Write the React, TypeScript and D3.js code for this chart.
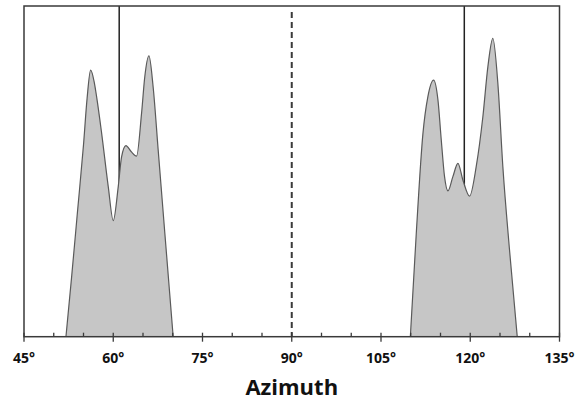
import React, { useEffect, useRef } from 'react';
import * as d3 from 'd3';

// azimuth (deg) and relative density
const westAzimuth = [52.05, 53.0, 54.0, 55.0, 55.6, 56.2, 56.8, 57.2, 58.05, 59.16, 60.0, 60.84, 61.4, 62.13, 63.0, 63.92, 64.76, 65.3, 66.0, 66.7, 67.55, 68.67, 70.07];
const westDensity = [0, 0.18, 0.38, 0.58, 0.72, 0.806, 0.77, 0.726, 0.615, 0.454, 0.351, 0.454, 0.544, 0.578, 0.56, 0.546, 0.676, 0.786, 0.849, 0.756, 0.565, 0.313, 0];

const eastAzimuth = [109.93, 110.93, 112.05, 112.88, 113.84, 114.57, 115.13, 115.68, 116.25, 117.08, 117.93, 118.76, 119.89, 121.0, 122.12, 122.96, 123.8, 124.64, 125.48, 126.6, 127.9];
const eastDensity = [0, 0.313, 0.615, 0.726, 0.776, 0.716, 0.595, 0.484, 0.441, 0.484, 0.524, 0.474, 0.425, 0.514, 0.665, 0.816, 0.902, 0.766, 0.514, 0.262, 0];

const referenceLines = [61, 119];
const centerLine = 90;
const majorTicks = [45, 60, 75, 90, 105, 120, 135];
const minorTicks = [50, 55, 65, 70, 80, 85, 95, 100, 110, 115, 125, 130];

const App = () => {
    const canvas = useRef<HTMLDivElement>(null);

    useEffect(() => {
        const width = 587;
        const height = 401;
        const margin = { top: 6, right: 27.5, bottom: 64.3, left: 24 };
        const boundedWidth = width - margin.left - margin.right;
        const boundedHeight = height - margin.top - margin.bottom;

        const root = d3.select(canvas.current);
        root.selectAll('*').remove();

        const wrapper = root.append('svg')
            .attr('width', width)
            .attr('height', height)
            .style('display', 'block');

        const bounds = wrapper.append('g')
            .attr('transform', `translate(${margin.left},${margin.top})`);

        const xScale = d3.scaleLinear().domain([45, 135]).range([0, boundedWidth]);
        const yScale = d3.scaleLinear().domain([0, 1]).range([boundedHeight, 0]);

        // reference lines sit behind the density fill
        bounds.selectAll('.ref')
            .data(referenceLines)
            .enter()
            .append('line')
            .attr('x1', d => xScale(d))
            .attr('x2', d => xScale(d))
            .attr('y1', 0)
            .attr('y2', boundedHeight)
            .attr('stroke', '#222')
            .attr('stroke-width', 1.5);

        const area = d3.area<[number, number]>()
            .x(d => xScale(d[0]))
            .y0(boundedHeight)
            .y1(d => yScale(d[1]))
            .curve(d3.curveMonotoneX);
        const line = d3.line<[number, number]>()
            .x(d => xScale(d[0]))
            .y(d => yScale(d[1]))
            .curve(d3.curveMonotoneX);

        const groups: [number, number][][] = [
            westAzimuth.map((a, i) => [a, westDensity[i]]),
            eastAzimuth.map((a, i) => [a, eastDensity[i]]),
        ];

        groups.forEach(g => {
            bounds.append('path')
                .attr('d', area(g))
                .attr('fill', '#c6c6c6');
            bounds.append('path')
                .attr('d', line(g))
                .attr('fill', 'none')
                .attr('stroke', '#5a5a5a')
                .attr('stroke-width', 1.2);
        });

        bounds.append('line')
            .attr('x1', xScale(centerLine))
            .attr('x2', xScale(centerLine))
            .attr('y1', 6)
            .attr('y2', boundedHeight)
            .attr('stroke', '#3a3a3a')
            .attr('stroke-width', 2)
            .attr('stroke-dasharray', '6,4');

        // frame
        bounds.append('rect')
            .attr('x', 0)
            .attr('y', 0)
            .attr('width', boundedWidth)
            .attr('height', boundedHeight)
            .attr('fill', 'none')
            .attr('stroke', '#3a3a3a')
            .attr('stroke-width', 1.5);

        const xAxis = bounds.append('g')
            .attr('transform', `translate(0,${boundedHeight})`);

        xAxis.selectAll('.minor')
            .data(minorTicks)
            .enter()
            .append('line')
            .attr('x1', d => xScale(d))
            .attr('x2', d => xScale(d))
            .attr('y1', -4)
            .attr('y2', 0)
            .attr('stroke', '#3a3a3a')
            .attr('stroke-width', 1.3);

        xAxis.selectAll('.major')
            .data(majorTicks)
            .enter()
            .append('line')
            .attr('x1', d => xScale(d))
            .attr('x2', d => xScale(d))
            .attr('y1', -4)
            .attr('y2', 5)
            .attr('stroke', '#3a3a3a')
            .attr('stroke-width', 1.3);

        xAxis.selectAll('.label')
            .data(majorTicks)
            .enter()
            .append('text')
            .attr('x', d => xScale(d))
            .attr('y', 26.5)
            .attr('text-anchor', 'middle')
            .style('font-family', '"Open Sans", sans-serif')
            .style('font-size', '14px')
            .style('font-weight', 'bold')
            .attr('fill', '#111')
            .text(d => `${d}°`);

        bounds.append('text')
            .attr('x', boundedWidth / 2)
            .attr('y', boundedHeight + 58.5)
            .attr('text-anchor', 'middle')
            .style('font-family', '"Open Sans", sans-serif')
            .style('font-size', '22px')
            .style('font-weight', 'bold')
            .attr('fill', '#111')
            .text('Azimuth');
    }, []);

    return <div ref={canvas} style={{ position: 'absolute', left: 0, top: 0 }}></div>;
};

export default App;
